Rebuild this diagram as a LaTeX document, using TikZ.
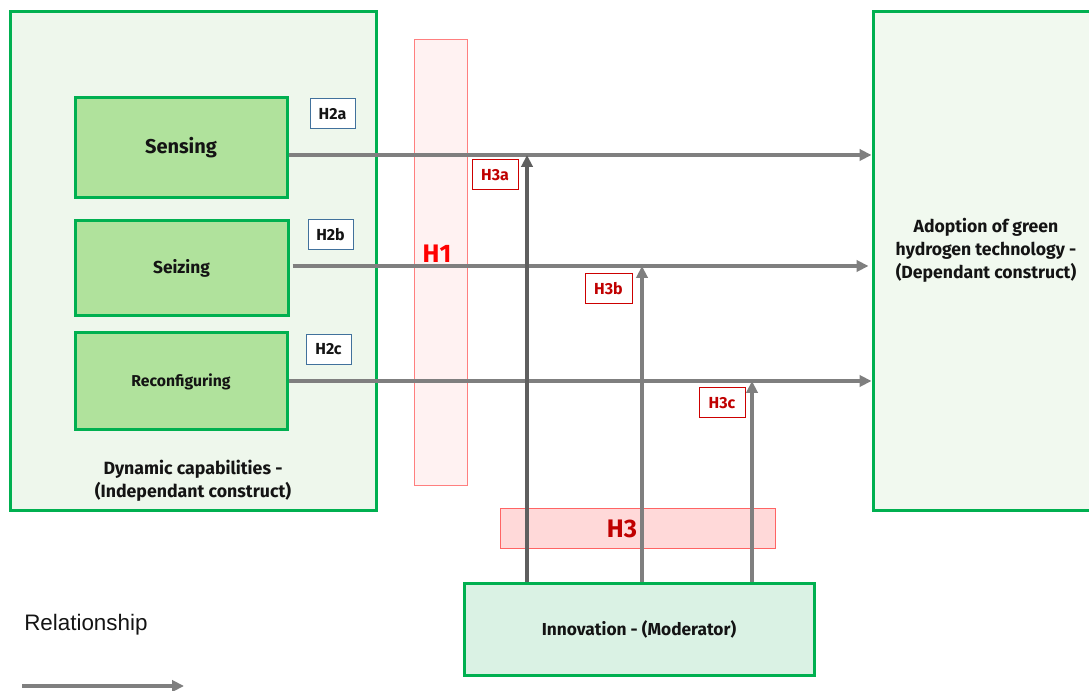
\documentclass[tikz,border=0pt]{standalone}
\usepackage{fontspec}
\setmainfont{Fira Sans}
\newfontfamily\arialf{Liberation Sans}
\usetikzlibrary{arrows.meta}
\definecolor{gstroke}{RGB}{0,176,80}
\definecolor{outerfill}{RGB}{238,247,236}
\definecolor{rightfill}{RGB}{241,249,239}
\definecolor{innerfill}{RGB}{176,226,156}
\definecolor{innofill}{RGB}{218,242,228}
\definecolor{hthreefill}{RGB}{255,217,217}
\definecolor{hthreestroke}{RGB}{255,100,100}
\definecolor{honefill}{RGB}{255,242,242}
\definecolor{honestroke}{RGB}{255,127,127}
\definecolor{darkred}{RGB}{192,0,0}
\definecolor{hblue}{RGB}{65,113,156}
\definecolor{arrgray}{RGB}{127,127,127}
\definecolor{arrdark}{RGB}{95,95,95}
\definecolor{txt}{RGB}{20,20,20}
\tikzset{
  bigbox/.style={draw=gstroke,line width=2.25pt,inner sep=0pt,anchor=center},
  capbox/.style={bigbox,fill=innerfill,minimum width=212*0.75pt},
  hbluebox/.style={draw=hblue,line width=0.75pt,fill=white,inner sep=0pt,minimum width=45*0.75pt,minimum height=30*0.75pt,font=\bfseries\fontsize{12}{13}\selectfont},
  hredbox/.style={draw=darkred!80!red,line width=0.75pt,fill=white,inner sep=0pt,minimum width=46*0.75pt,minimum height=30*0.75pt,text=darkred,font=\bfseries\fontsize{12}{13}\selectfont},
  rel/.style={draw=arrgray,line width=3pt,-{Triangle[length=9pt,width=8.5pt]}},
}
\begin{document}
\begin{tikzpicture}[x=0.75pt,y=-0.75pt,text=txt]
\useasboundingbox (0,0) rectangle (1089,691);
\clip (0,0) rectangle (1089,691);
% left outer
\node[bigbox,fill=outerfill,minimum width=366*0.75pt,minimum height=498*0.75pt] (dyn) at (193,261) {};
\node[font=\bfseries\fontsize{13.3}{17.3}\selectfont,align=center] (dyntxt) at (193,481) {Dynamic capabilities -\\(Independant construct)};
% right box
\node[bigbox,fill=rightfill,minimum width=222*0.75pt,minimum height=498*0.75pt] (adopt) at (984,261) {};
\node[font=\bfseries\fontsize{13.2}{17.3}\selectfont,align=center] (adopttxt) at (986,250) {Adoption of green\\hydrogen technology -\\(Dependant construct)};
% inner boxes
\node[capbox,minimum height=100*0.75pt,font=\bfseries\fontsize{15}{18}\selectfont] (sens) at (181,148) {Sensing};
\node[capbox,minimum width=213*0.75pt,minimum height=95*0.75pt,font=\bfseries\fontsize{13}{15}\selectfont] (seiz) at (181.5,268) {Seizing};
\node[capbox,minimum height=97*0.75pt,font=\bfseries\fontsize{11.8}{13}\selectfont] (reconf) at (181,381.5) {Reconfiguring};
% H2 labels
\node[hbluebox] (h2a) at (332.5,114) {H2a};
\node[hbluebox] (h2b) at (330.5,234.5) {H2b};
\node[hbluebox] (h2c) at (328.5,349.5) {H2c};
% H1 band
\node[draw=honestroke,fill=honefill,line width=0.75pt,inner sep=0pt,minimum width=53*0.75pt,minimum height=445*0.75pt] (h1box) at (440.5,262.5) {};
\node[text=red,font=\bfseries\fontsize{19}{20}\selectfont] (h1) at (437,254) {H1};
% H3 band
\node[draw=hthreestroke,fill=hthreefill,line width=0.75pt,inner sep=0pt,minimum width=275*0.75pt,minimum height=40*0.75pt] (h3box) at (637.5,528) {};
\node[text=darkred,font=\bfseries\fontsize{19}{20}\selectfont] (h3) at (622,529) {H3};
% moderator
\node[bigbox,fill=innofill,minimum width=350*0.75pt,minimum height=92*0.75pt,font=\bfseries\fontsize{13}{15}\selectfont] (inno) at (639,629) {Innovation - (Moderator)};
% horizontal relationships
\coordinate (ja) at (527,155);
\coordinate (jb) at (642,266);
\coordinate (jc) at (752,381);
\draw[rel] (sens.east |- ja) -- (adopt.west |- ja);
\draw[rel] ([xshift=3*0.75pt]seiz.east |- jb) -- ([xshift=-3*0.75pt]adopt.west |- jb);
\draw[rel] (reconf.east |- jc) -- (adopt.west |- jc);
% vertical moderations
\draw[rel,draw=arrdark] (inno.north -| ja) -- (ja);
\draw[rel] (inno.north -| jb) -- (jb);
\draw[rel] (inno.north -| jc) -- (jc);
% H3 labels
\node[hredbox] (h3a) at (495,175) {H3a};
\node[hredbox,minimum width=47*0.75pt] (h3b) at (608.5,288.5) {H3b};
\node[hredbox] (h3c) at (722,403) {H3c};
% legend
\node[anchor=west,font=\arialf\fontsize{16.8}{18}\selectfont,inner sep=0pt] (legtxt) at (24,625) {Relationship};
\coordinate (lega) at (22,686);
\coordinate (legb) at (184,686);
\draw[rel] (lega) -- (legb);
\end{tikzpicture}
\end{document}
